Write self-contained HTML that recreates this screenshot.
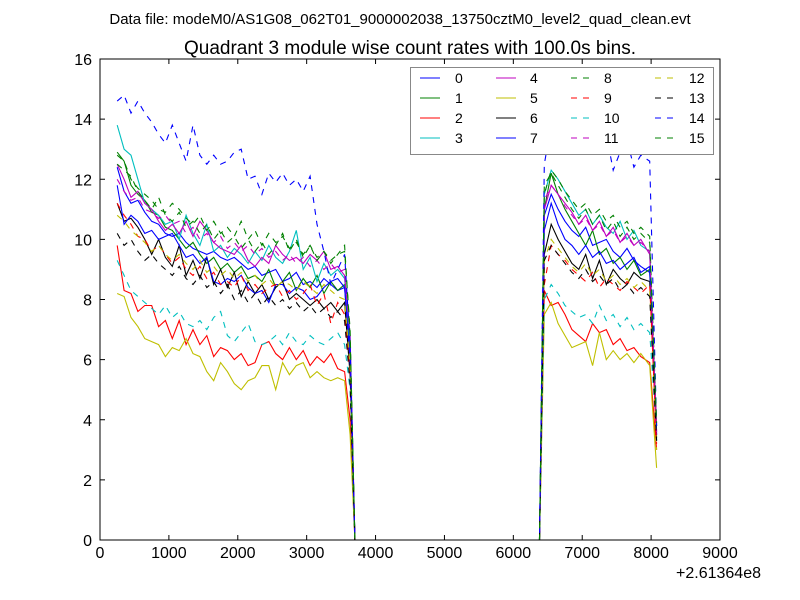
<!DOCTYPE html>
<html><head><meta charset="utf-8"><style>
body{margin:0;background:#fff;}
svg{display:block;font-family:"Liberation Sans",sans-serif;}
</style></head><body>
<svg id="chart" width="800" height="600">
<rect width="800" height="600" fill="#fff"/>
<text x="400" y="24" font-size="15" text-anchor="middle">Data file: modeM0/AS1G08_062T01_9000002038_13750cztM0_level2_quad_clean.evt</text>
<text x="410" y="54" font-size="19" text-anchor="middle">Quadrant 3 module wise count rates with 100.0s bins.</text>
<g id="series"></g>
<g id="axes"></g>
<g id="legend"></g>
</svg>
<script>
const times=[250,350,450,550,650,750,850,950,1050,1150,1250,1350,1450,1550,1650,1750,1850,1950,2050,2150,2250,2350,2450,2550,2650,2750,2850,2950,3050,3150,3250,3350,3450,3550,3630,3700,6380,6450,6550,6650,6750,6850,6950,7050,7150,7250,7350,7450,7550,7650,7750,7850,7980,8080];
const s0=[12.4,11.6,11.2,11.3,10.9,10.6,10.5,10.2,10.1,10.2,9.9,9.7,9.6,9.5,9.6,9.4,9.3,9.4,9.2,9.0,9.1,8.8,8.9,9.0,8.6,8.7,8.9,8.5,8.6,8.4,8.7,8.5,8.3,8.4,6.0,0,0,10.8,11.5,11.0,10.6,10.3,10.1,10.4,9.8,9.9,10.0,9.6,9.4,9.7,9.3,9.1,8.9,3.5];
const s1=[12.9,12.6,11.8,11.5,11.3,10.9,10.8,10.4,10.3,10.0,9.7,9.9,9.5,9.2,9.4,9.0,9.2,8.9,9.1,8.7,8.8,8.6,9.0,8.4,8.6,8.9,8.3,8.7,8.4,8.8,8.2,8.6,8.3,8.5,6.5,0,0,11.0,12.2,11.5,11.0,10.6,10.2,9.8,10.3,9.5,9.7,9.2,9.4,9.0,9.3,8.8,9.0,3.8];
const s2=[9.8,8.3,8.2,7.6,7.8,7.8,7.1,7.3,6.7,7.3,6.5,7.0,6.5,6.8,6.1,6.4,6.3,6.0,6.2,5.8,5.9,6.5,6.6,6.2,6.0,6.4,6.0,6.3,5.8,6.1,5.9,6.2,5.7,5.6,4.0,0,0,8.3,7.8,7.9,7.5,7.0,6.8,6.6,7.2,6.9,7.0,6.5,6.7,6.3,6.4,6.1,5.9,3.0];
const s3=[13.8,13.0,12.8,12.0,11.2,11.0,10.8,10.5,10.6,10.0,10.8,10.2,9.8,10.5,9.6,9.8,9.4,9.7,9.5,9.2,9.6,9.3,9.8,9.4,9.2,9.6,10.3,9.0,9.4,8.6,9.2,8.8,9.0,8.7,6.5,0,0,11.5,12.3,12.0,11.6,11.2,10.8,11.0,10.5,10.8,10.4,10.2,10.6,10.0,10.3,9.8,9.6,3.3];
const s4=[12.5,12.0,11.4,11.6,11.2,11.0,10.6,10.3,10.5,10.2,10.6,10.1,10.6,10.3,9.9,9.7,9.6,9.5,9.8,9.3,9.1,9.4,9.2,9.8,9.5,9.3,9.4,9.2,9.5,9.3,9.6,9.0,9.1,8.8,6.8,0,0,11.0,11.8,11.5,11.2,10.9,10.5,10.8,10.3,10.6,10.1,10.4,9.9,10.2,9.8,10.0,9.5,3.6];
const s5=[8.2,8.1,7.4,7.1,6.7,6.6,6.5,6.1,6.4,6.3,6.7,6.2,6.1,5.6,5.3,5.9,5.6,5.2,5.0,5.3,5.4,5.8,5.8,5.0,5.9,5.5,5.8,5.9,5.4,5.6,5.4,5.3,5.4,5.3,3.5,0,0,7.5,7.9,7.2,6.8,6.4,6.5,6.6,5.8,6.9,6.0,6.3,6.0,6.2,5.9,6.2,5.8,2.4];
const s6=[11.2,10.6,10.7,10.4,10.0,9.5,10.0,9.4,9.1,9.8,8.8,9.3,8.7,9.4,8.5,9.0,8.4,8.9,8.1,8.6,8.2,8.5,8.0,8.4,8.6,8.0,8.2,8.0,7.8,8.0,7.7,7.9,7.6,7.9,5.5,0,0,9.5,10.5,10.0,9.6,9.2,9.0,9.5,8.7,9.3,8.5,9.0,8.7,8.5,8.9,8.7,8.6,3.4];
const s7=[11.8,10.5,10.8,10.6,10.2,10.3,10.0,10.1,10.2,9.8,9.4,9.5,9.2,9.4,8.6,8.5,8.7,8.6,8.8,8.4,8.2,8.3,7.9,8.5,8.5,8.2,8.4,8.3,8.0,8.1,8.4,8.6,8.7,8.4,6.0,0,0,10.3,11.2,10.5,10.0,9.8,9.5,9.8,9.4,9.6,9.2,9.3,9.0,9.2,9.4,8.9,9.1,3.5];
const s8=[12.8,12.6,12.0,11.7,11.5,11.3,11.0,10.9,11.2,11.0,10.7,10.5,10.8,10.3,10.6,10.2,10.4,10.1,10.6,10.0,10.3,9.8,10.2,9.9,10.1,9.7,9.9,9.5,9.8,9.4,9.6,9.3,9.5,9.6,7.0,0,0,11.5,12.3,12.0,11.6,11.3,11.0,11.2,10.8,11.0,10.6,10.8,10.4,10.6,10.2,10.4,10.1,3.8];
const s9=[11.2,10.8,10.5,10.1,10.0,9.6,9.8,9.5,9.2,9.4,9.0,8.8,9.1,8.7,8.9,8.5,8.6,8.4,8.8,8.3,8.5,8.2,8.4,8.5,8.1,8.3,8.0,8.2,8.5,7.8,8.2,7.2,7.9,7.5,5.5,0,0,8.5,9.8,9.5,9.3,9.0,8.8,8.6,8.9,8.4,8.7,8.5,8.3,8.6,8.4,8.2,8.5,3.2];
const s10=[9.3,8.8,8.3,8.1,7.9,7.7,7.5,7.8,7.4,7.6,7.2,7.1,7.3,7.0,7.4,7.6,6.8,6.6,6.9,7.2,6.6,6.5,6.6,6.8,6.5,6.9,6.6,6.5,6.8,6.6,6.5,6.7,6.9,6.5,5.0,0,0,8.0,8.5,8.2,7.8,7.6,7.4,7.5,7.2,7.8,7.3,7.5,7.1,7.4,7.0,7.2,6.9,3.5];
const s11=[12.0,11.6,11.3,11.4,11.0,10.9,10.7,10.8,10.5,10.6,10.2,10.4,10.0,10.2,9.9,10.1,9.7,9.9,9.6,9.8,9.5,9.7,9.4,9.6,9.3,9.5,9.2,9.4,9.1,9.3,9.0,9.2,8.9,9.0,6.5,0,0,11.3,11.8,11.5,11.1,10.8,10.5,10.7,10.3,10.5,10.1,10.3,9.9,10.1,9.8,9.9,9.6,3.6];
const s12=[10.8,10.6,10.3,10.1,9.9,9.6,9.8,9.5,9.3,9.5,9.2,9.0,9.3,8.9,9.1,8.8,9.0,8.7,8.9,8.6,8.8,8.5,8.7,8.4,8.6,8.5,8.3,8.6,8.4,8.2,8.5,8.3,8.1,8.0,5.8,0,0,9.3,10.0,9.7,9.4,9.1,8.9,9.2,8.8,9.0,8.6,8.8,8.5,8.7,8.4,8.6,8.3,3.0];
const s13=[10.2,9.8,10.0,9.6,9.3,9.5,9.2,9.0,8.8,9.1,8.7,8.5,8.8,8.4,8.6,8.2,8.5,8.0,8.3,7.9,8.2,7.8,8.1,7.8,8.0,7.7,7.9,7.6,7.8,7.5,7.7,7.4,7.6,7.3,5.2,0,0,9.3,9.8,9.5,9.2,8.9,8.7,9.0,8.6,8.8,8.5,8.7,8.3,8.5,8.2,8.4,8.1,3.3];
const s14=[14.6,14.8,14.2,14.6,14.2,13.9,13.5,13.2,13.8,13.2,12.6,13.8,12.8,12.5,12.8,12.5,12.6,12.9,13.0,12.0,12.1,11.5,12.2,11.9,12.2,11.8,12.0,11.6,12.1,10.5,9.6,8.5,9.0,9.5,6.5,0,0,12.5,13.8,14.0,13.5,13.7,13.4,13.2,13.0,13.2,13.5,12.3,12.9,13.3,12.4,12.8,12.6,3.8];
const s15=[12.5,12.3,12.1,11.6,11.3,11.0,11.4,10.8,10.6,10.9,10.4,10.6,10.2,10.5,10.0,10.3,9.9,10.1,9.7,10.0,9.6,9.9,9.5,9.8,10.2,9.6,10.0,9.4,9.8,9.3,9.6,9.2,9.5,9.8,6.8,0,0,11.8,12.2,11.8,11.4,11.0,10.7,11.0,10.5,10.8,10.3,10.6,10.1,10.4,10.0,10.2,9.9,3.9];
const seriesNames=["0","1","2","3","4","5","6","7","8","9","10","11","12","13","14","15"];
const xTicks=[0,1000,2000,3000,4000,5000,6000,7000,8000,9000];
const yTicks=[0,2,4,6,8,10,12,14,16];

const allSeries=[s0,s1,s2,s3,s4,s5,s6,s7,s8,s9,s10,s11,s12,s13,s14,s15];
const colors=["#0000ff","#008000","#ff0000","#00bfbf","#bf00bf","#bfbf00","#000000"];
const L=100,R=720,T=59,B=540;
function xs(v){return L+(v-0)/9000*(R-L);}
function ys(v){return B-(v-0)/16*(B-T);}
const NS="http://www.w3.org/2000/svg";
function mk(tag,attrs,parent){const e=document.createElementNS(NS,tag);for(const k in attrs)e.setAttribute(k,attrs[k]);parent.appendChild(e);return e;}
const sg=document.getElementById('series');
allSeries.forEach((s,i)=>{
  const d=s.map((v,j)=>(j?'L':'M')+xs(times[j]).toFixed(1)+','+ys(v).toFixed(1)).join(' ');
  const p=mk('path',{d:d,fill:'none',stroke:colors[i%7],'stroke-width':1.1},sg);
  if(i>=8)p.setAttribute('stroke-dasharray','6,6');
  
  
});
const ax=document.getElementById('axes');
const fr=mk('rect',{x:L,y:T,width:R-L,height:B-T,fill:'none',stroke:'#000','stroke-width':1},ax);


xTicks.forEach(v=>{
  const x=xs(v);
  mk('line',{x1:x,x2:x,y1:B,y2:B-5,stroke:'#000'},ax);
  mk('line',{x1:x,x2:x,y1:T,y2:T+5,stroke:'#000'},ax);
  const t=mk('text',{x:x,y:B+18,'font-size':16,'text-anchor':'middle'},ax);
  t.textContent=v;
  
  
});
yTicks.forEach(v=>{
  const y=ys(v);
  mk('line',{x1:L,x2:L+5,y1:y,y2:y,stroke:'#000'},ax);
  mk('line',{x1:R,x2:R-5,y1:y,y2:y,stroke:'#000'},ax);
  const t=mk('text',{x:L-8,y:y+6,'font-size':16,'text-anchor':'end'},ax);
  t.textContent=v;
  
  
});
const off=mk('text',{x:761,y:578,'font-size':16,'text-anchor':'end'},ax);
off.textContent='+2.61364e8';


const lg=document.getElementById('legend');
const lb=mk('rect',{x:410.5,y:67.5,width:303,height:87,fill:'#fff',stroke:'#888','stroke-width':1},lg);


const colX=[420,496,571,655],txtX=[455,530,604,689];
seriesNames.forEach((n,i)=>{
  const c=Math.floor(i/4),r=i%4,y=78+r*20;
  const ln=mk('line',{x1:colX[c],x2:colX[c]+20,y1:y,y2:y,stroke:colors[i%7],'stroke-width':1.1},lg);
  if(i>=8)ln.setAttribute('stroke-dasharray','6,6');
  
  
  const t=mk('text',{x:txtX[c],y:y+5,'font-size':14},lg);
  t.textContent=n;
  
  
});
</script>
</body></html>
